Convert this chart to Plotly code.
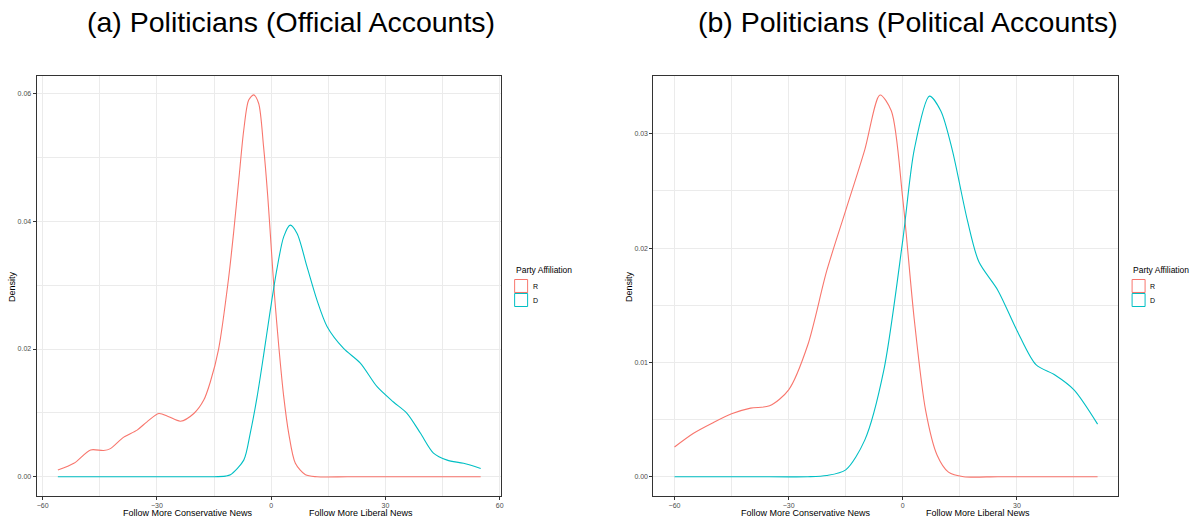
import plotly.graph_objects as go

# ---------------- data ----------------
# Panel (a): Politicians (Official Accounts)
a_R_x = [-56.0, -51.8, -47.4, -44.0, -42.2, -38.7, -35.2, -32.6, -29.5, -26.9, -23.8,
         -20.3, -17.7, -16.0, -13.8, -11.2, -9.8, -8.5, -7.2, -5.9, -4.6, -3.3,
         -2.0, -0.9, 0.0, 0.9, 2.0, 3.3, 4.6, 6.35, 9.0, 12.0, 20.0, 30.0, 40.0, 55.0]
a_R_y = [0.00105, 0.0021, 0.0042, 0.0041, 0.0044, 0.0062, 0.0073, 0.0086, 0.0099, 0.0094, 0.0087,
         0.0099, 0.0120, 0.0148, 0.0200, 0.0310, 0.0386, 0.0465, 0.0543, 0.0590, 0.0598, 0.0585,
         0.0517, 0.0439, 0.0360, 0.0282, 0.0204, 0.0125, 0.0068, 0.0021, 0.0003, 0.0, 0.0, 0.0, 0.0, 0.0]

a_D_x = [-56.0, -40.0, -25.0, -15.0, -12.0, -10.7, -7.2, -5.5, -3.7, -2.0, -0.2,
         1.5, 3.3, 5.0, 6.8, 9.4, 12.0, 14.7, 19.0, 23.4, 27.8, 32.1, 35.7, 39.2, 42.6,
         46.2, 50.5, 55.0]
a_D_y = [0.0, 0.0, 0.0, 0.0, 0.0001, 0.0003, 0.0026, 0.0068, 0.0125, 0.0190, 0.0262,
         0.0325, 0.0376, 0.0394, 0.0381, 0.0329, 0.0277, 0.0235, 0.0201, 0.0178, 0.0141, 0.0117, 0.0099, 0.0068, 0.0037,
         0.0026, 0.0021, 0.0013]

# Panel (b): Politicians (Political Accounts)
b_R_x = [-60.0, -55.0, -50.0, -45.0, -40.0, -35.0, -30.0, -25.0, -20.0, -15.0, -10.0, -6.0,
         -3.0, 0.0, 3.0, 6.0, 9.0, 12.0, 16.0, 25.0, 40.0, 51.2]
b_R_y = [0.0026, 0.0038, 0.0047, 0.0055, 0.0060, 0.0062, 0.0076, 0.0115, 0.0180, 0.0233, 0.0286, 0.0334,
         0.0320, 0.0243, 0.0138, 0.0058, 0.0019, 0.0004, 0.0, 0.0, 0.0, 0.0]

b_D_x = [-60.0, -40.0, -25.0, -20.0, -15.0, -10.0, -5.0, 0.0, 3.0, 7.0, 10.0, 13.0, 17.0,
         20.0, 25.0, 30.0, 35.0, 40.0, 45.0, 51.2]
b_D_y = [0.0, 0.0, 0.0, 0.0001, 0.0006, 0.0032, 0.0093, 0.0207, 0.0286, 0.0333, 0.0320, 0.0286, 0.0224,
         0.0188, 0.0163, 0.0128, 0.0098, 0.0089, 0.0076, 0.0046]

titles = ["(a) Politicians (Official Accounts)", "(b) Politicians (Political Accounts)"]
x_left_label = "Follow More Conservative News"
x_right_label = "Follow More Liberal News"
y_label = "Density"
legend_title = "Party Affiliation"
parties = ["R", "D"]
colors = {"R": "#F8766D", "D": "#00BFC4"}

W, H = 1198, 521
FONT = "Liberation Sans, Arial, Helvetica, sans-serif"


def px(xp):
    return xp / W


def py(yp):
    return 1 - yp / H


fig = go.Figure()

series = [
    ("x", "y", a_R_x, a_R_y, "R"),
    ("x", "y", a_D_x, a_D_y, "D"),
    ("x2", "y2", b_R_x, b_R_y, "R"),
    ("x2", "y2", b_D_x, b_D_y, "D"),
]
for xa, ya, xs, ys, p in series:
    fig.add_trace(go.Scatter(x=xs, y=ys, xaxis=xa, yaxis=ya, mode="lines", name=p,
                             line=dict(color=colors[p], width=1.1, shape="spline", smoothing=0.8),
                             showlegend=False))

grid = "#EBEBEB"
tickfont = dict(family=FONT, size=7, color="#4D4D4D")
common_x = dict(showline=True, linecolor="#333333", linewidth=1, mirror=True,
                ticks="outside", ticklen=3, tickcolor="#333333", tickwidth=1,
                showgrid=True, gridcolor=grid, gridwidth=1, zeroline=False,
                tickfont=tickfont)
common_y = dict(showline=True, linecolor="#333333", linewidth=1, mirror=True,
                ticks="outside", ticklen=3, tickcolor="#333333", tickwidth=1,
                showgrid=True, gridcolor=grid, gridwidth=1, zeroline=False,
                tickfont=tickfont, tick0=0)

fig.update_layout(
    width=W, height=H,
    margin=dict(l=0, r=0, t=0, b=0),
    paper_bgcolor="white", plot_bgcolor="white",
    font=dict(family=FONT, color="black"),
    showlegend=False,
    xaxis=dict(common_x, domain=[px(36.7), px(502.3)], range=[-61.57, 60.45],
               minor=dict(showgrid=True, gridcolor=grid, gridwidth=0.5, dtick=15, tick0=0), anchor="y",
               tickvals=[-60, -30, 0, 30, 60], ticktext=["\u221260", "\u221230", "0", "30", "60"]),
    yaxis=dict(common_y, domain=[py(495.5), py(76)], range=[-0.00294, 0.06276], dtick=0.02,
               tickformat=".2f",
               minor=dict(showgrid=True, gridcolor=grid, gridwidth=0.5, dtick=0.01, tick0=0), anchor="x"),
    xaxis2=dict(common_x, domain=[px(654.5), px(1120.3)], range=[-65.55, 56.68],
                minor=dict(showgrid=True, gridcolor=grid, gridwidth=0.5, dtick=15, tick0=0), anchor="y2",
                tickvals=[-60, -30, 0, 30], ticktext=["\u221260", "\u221230", "0", "30"]),
    yaxis2=dict(common_y, domain=[py(496), py(76)], range=[-0.00169, 0.03506], dtick=0.01,
                tickformat=".2f",
                minor=dict(showgrid=True, gridcolor=grid, gridwidth=0.5, dtick=0.005, tick0=0), anchor="x2"),
)

ann = []
shapes = []
title_font = dict(family=FONT, size=28.5, color="black")
ann.append(dict(text=titles[0], x=px(291.5), y=py(22), xref="paper", yref="paper",
                showarrow=False, xanchor="center", yanchor="middle", font=title_font))
ann.append(dict(text=titles[1], x=px(910), y=py(22), xref="paper", yref="paper",
                showarrow=False, xanchor="center", yanchor="middle", font=title_font))
lab_font = dict(family=FONT, size=9, color="black")
for xc, t in [(188, x_left_label), (362, x_right_label), (807, x_left_label), (980, x_right_label)]:
    ann.append(dict(text=t, x=px(xc), y=py(513), xref="paper", yref="paper", showarrow=False,
                    xanchor="center", yanchor="middle", font=lab_font))
for xc in [12, 630]:
    ann.append(dict(text=y_label, x=px(xc), y=py(286), xref="paper", yref="paper", showarrow=False,
                    xanchor="center", yanchor="middle", textangle=-90, font=lab_font))

# legends drawn in the ggplot style: title, outlined square keys, labels
for lx in [515.5, 1134]:
    ann.append(dict(text=legend_title, x=px(lx - 1), y=py(270), xref="paper", yref="paper",
                    showarrow=False, xanchor="left", yanchor="middle",
                    font=dict(family=FONT, size=8.5, color="black")))
    shapes.append(dict(type="line", xref="paper", yref="paper",
                       x0=px(lx), x1=px(lx + 13), y0=py(292.7), y1=py(292.7),
                       line=dict(color="#A8A8A8", width=1.5)))
    for i, p in enumerate(parties):
        top = 279.5 + 14 * i
        shapes.append(dict(type="rect", xref="paper", yref="paper",
                           x0=px(lx), x1=px(lx + 13), y0=py(top + 13), y1=py(top),
                           line=dict(color=colors[p], width=1), fillcolor="rgba(0,0,0,0)"))
        ann.append(dict(text=p, x=px(lx + 16), y=py(top + 6.5), xref="paper", yref="paper",
                        showarrow=False, xanchor="left", yanchor="middle",
                        font=dict(family=FONT, size=7, color="black")))

fig.update_layout(annotations=ann, shapes=shapes)

fig.write_html("out.html", config={"displayModeBar": False},
               post_script="document.body.style.margin='0px';")
